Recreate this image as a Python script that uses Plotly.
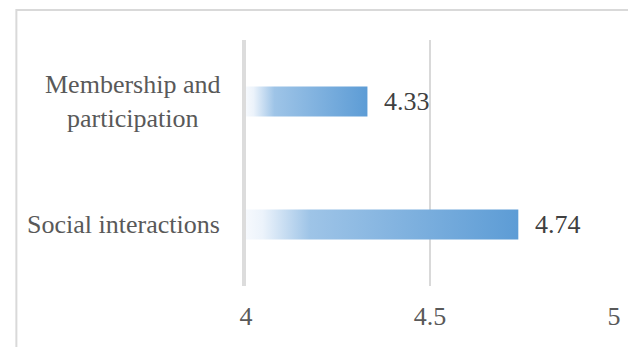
import plotly.graph_objects as go

# Mean scores per dimension
categories = ["Social interactions", "Membership and<br>participation"]
values = [4.74, 4.33]
x_ticks = [4, 4.5, 5]
x_tick_labels = ["4", "4.5", "5"]

FONT = "Liberation Serif"
GRID = "#D9D9D9"
BASE = 4
HALF = 0.122  # half bar thickness in category units

W, H = 628, 347
L, R, T, B = 246, 7, 40, 61

# horizontal white-to-blue fill used for every bar
gradient = [
    [0.0, "rgb(246,249,253)"],
    [0.06, "rgb(236,243,251)"],
    [0.23, "rgb(158,196,231)"],
    [1.0, "rgb(91,155,213)"],
]

fig = go.Figure()
for i, (cat, v) in enumerate(zip(categories, values)):
    fig.add_trace(go.Scatter(
        x=[BASE, v, v, BASE, BASE],
        y=[i - HALF, i - HALF, i + HALF, i + HALF, i - HALF],
        mode="lines",
        line=dict(width=0, color="rgba(0,0,0,0)"),
        fill="toself",
        fillgradient=dict(type="horizontal", colorscale=gradient, start=BASE, stop=v),
        hoverinfo="skip",
        showlegend=False,
    ))
    # value label to the right of the bar
    fig.add_annotation(
        x=v, y=i, xref="x", yref="y",
        text=f"{v:.2f}", showarrow=False,
        xanchor="left", xshift=15,
        font=dict(family=FONT, size=26, color="#404040"),
    )
    # category label, centred lines, right of it aligned to the axis
    fig.add_annotation(
        x=0, y=i, xref="paper", yref="y",
        text=cat, showarrow=False, align="center",
        xanchor="right", xshift=-24,
        font=dict(family=FONT, size=26, color="#595959"),
    )

# chart area frame
pw, ph = W - L - R, H - T - B
fig.add_shape(
    type="rect", xref="paper", yref="paper",
    x0=(12 - L) / pw, x1=(W + 20 - L) / pw,
    y0=-(H + 20 - T - ph) / ph, y1=1 + (T - 10) / ph,
    line=dict(color=GRID, width=2), fillcolor="rgba(0,0,0,0)",
    layer="below",
)

fig.update_layout(
    width=W, height=H,
    margin=dict(l=L, r=R, t=T, b=B),
    paper_bgcolor="white", plot_bgcolor="white",
    showlegend=False,
    xaxis=dict(
        range=[4, 5], tickvals=x_ticks, ticktext=x_tick_labels,
        showgrid=True, gridcolor=GRID, gridwidth=2,
        zeroline=False, showline=False, ticks="",
        tickfont=dict(family=FONT, size=26, color="#595959"),
        ticklabelstandoff=12, layer="above traces",
        fixedrange=True,
    ),
    yaxis=dict(
        range=[-0.5, 1.5], tickvals=[0, 1], showticklabels=False,
        showgrid=False, zeroline=False,
        showline=True, linecolor="#DCDCDC", linewidth=4,
        ticks="", layer="above traces", fixedrange=True,
    ),
)

fig.write_html("out.html")
